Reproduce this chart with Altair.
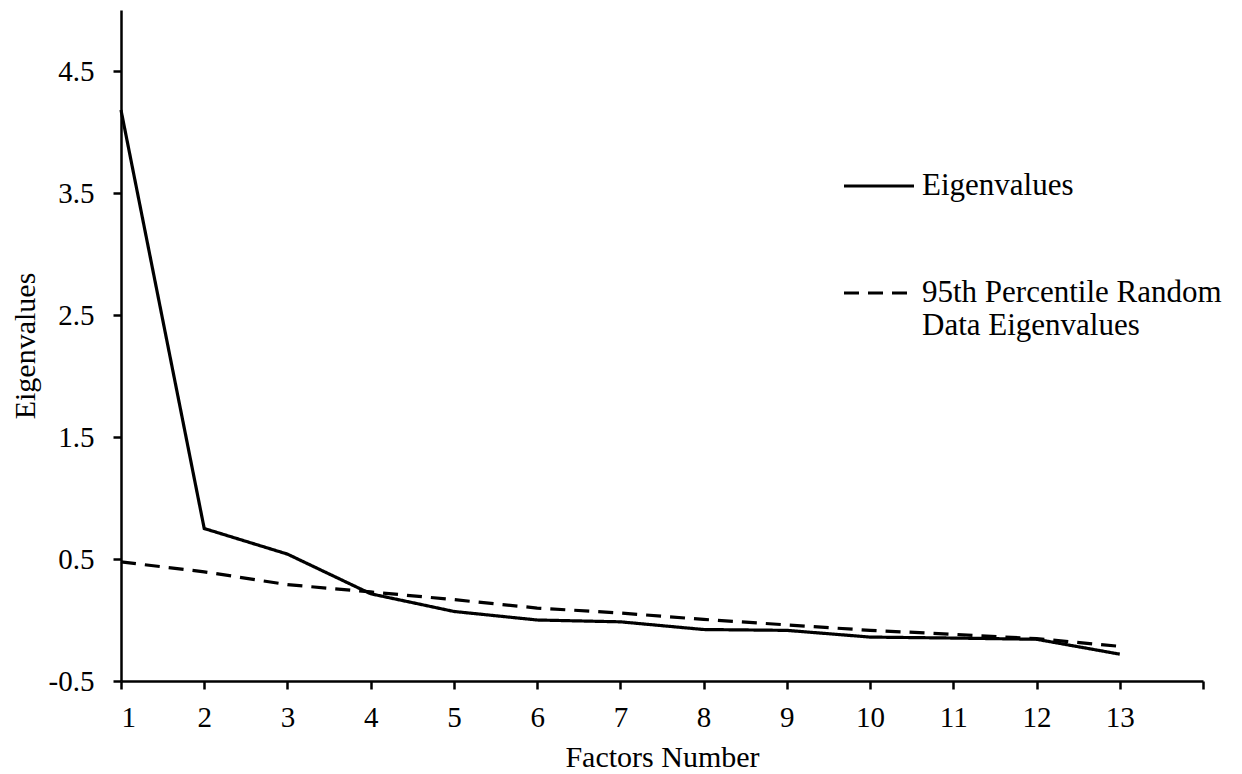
import altair as alt
import pandas as pd

factors = list(range(1, 14))
eigenvalues = [4.18, 0.75, 0.54, 0.215, 0.07, 0.0, -0.015, -0.078, -0.085, -0.14, -0.148, -0.158, -0.28]
random95 = [0.476, 0.395, 0.29, 0.23, 0.167, 0.098, 0.057, 0.005, -0.04, -0.085, -0.117, -0.153, -0.216]
series_names = ["Eigenvalues", "95th Percentile Random Data Eigenvalues"]
x_ticks = list(range(1, 15))
y_ticks = [-0.5, 0.5, 1.5, 2.5, 3.5, 4.5]

rows = []
for f, v in zip(factors, eigenvalues):
    rows.append({"Factor": f, "Value": v, "Series": series_names[0]})
for f, v in zip(factors, random95):
    rows.append({"Factor": f, "Value": v, "Series": series_names[1]})
df = pd.DataFrame(rows)

FONT = "Liberation Serif"

chart = alt.Chart(df).mark_line(strokeWidth=3.2, color="black").encode(
    x=alt.X("Factor:Q",
            scale=alt.Scale(domain=[1, 14], nice=False, zero=False),
            axis=alt.Axis(values=x_ticks, title="Factors Number",
                          labelExpr="datum.value == 14 ? '' : datum.label",
                          grid=False)),
    y=alt.Y("Value:Q",
            scale=alt.Scale(domain=[-0.5, 5.0], nice=False, zero=False),
            axis=alt.Axis(values=y_ticks, title="Eigenvalues",
                          labelExpr="datum.value < 0 ? '-' + format(abs(datum.value), '.1f') : format(datum.value, '.1f')",
                          grid=False)),
    strokeDash=alt.StrokeDash("Series:N",
                              scale=alt.Scale(domain=series_names, range=[[1, 0], [15, 9]]),
                              legend=alt.Legend(
                                  title=None, orient="none", legendX=721, legendY=139,
                                  symbolType="stroke", symbolSize=4900, symbolStrokeWidth=3.2,
                                  symbolStrokeColor="black",
                                  labelFont=FONT, labelFontSize=31, labelColor="black",
                                  labelOffset=6, rowPadding=55, labelLimit=400,
                                  labelExpr="datum.label == '95th Percentile Random Data Eigenvalues' ? ['95th Percentile Random', 'Data Eigenvalues'] : datum.label",
                              )),
    order="Factor:Q",
).properties(
    width=1082, height=671,
    autosize=alt.AutoSizeParams(type="none"),
    padding={"left": 113, "top": 2, "right": 22, "bottom": 92},
).configure_view(stroke=None).configure_axis(
    domainColor="black", domainWidth=2.5, tickColor="black", tickWidth=2.5, tickSize=8,
    labelFont=FONT, labelFontSize=29, labelColor="black",
    titleFont=FONT, titleFontSize=30, titleColor="black", titleFontWeight="normal",
).configure_axisY(labelPadding=19, titlePadding=8).configure_axisX(labelPadding=14, titlePadding=10)

chart.save("out.html", embed_options={"renderer": "svg", "actions": False})
